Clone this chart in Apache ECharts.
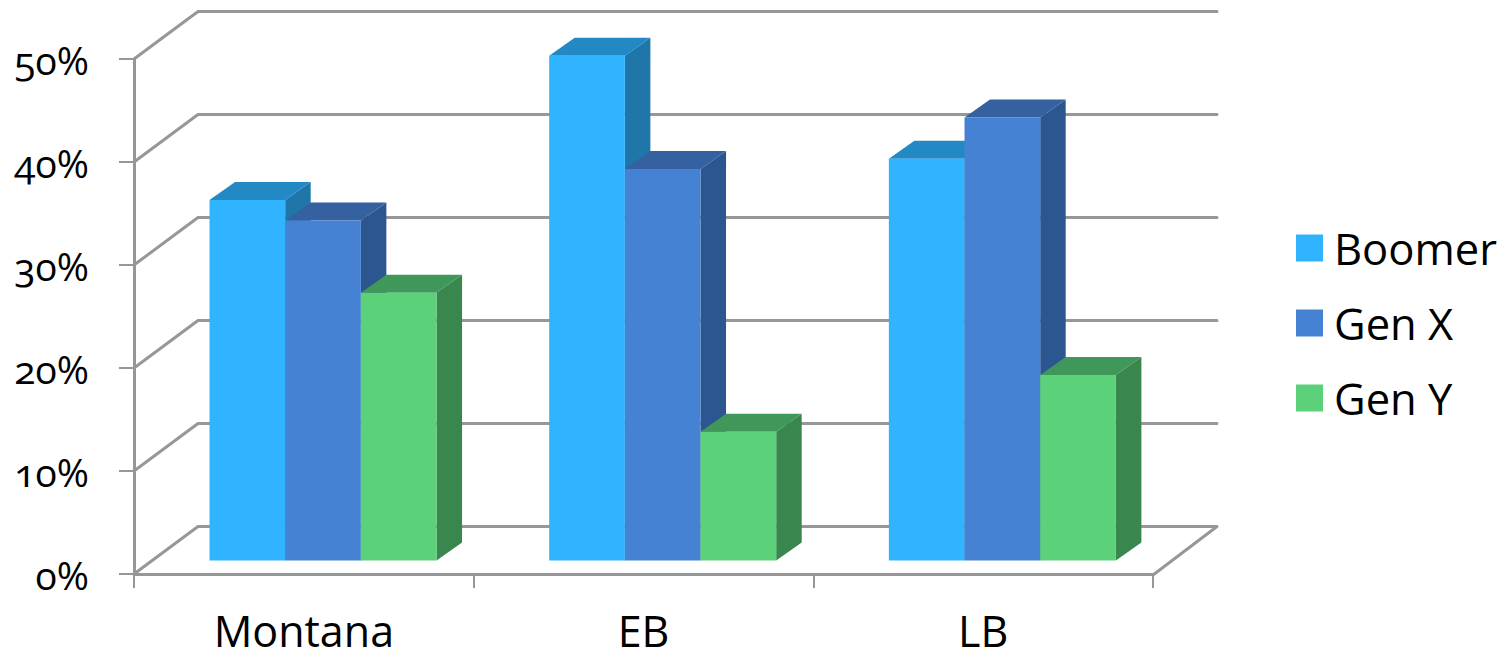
<!DOCTYPE html>
<html>
<head>
<meta charset="utf-8">
<style>
  html, body { margin: 0; padding: 0; background: #fff; }
  #chart { width: 1510px; height: 659px; }
  /* old-style figures for the axis numbers */
  #chart text { font-feature-settings: "onum" 1 !important; }
</style>
<script src="https://cdn.jsdelivr.net/npm/echarts@6/dist/echarts.min.js"></script>
</head>
<body>
<div id="chart"></div>
<script>
const categories = ['Montana', 'EB', 'LB'];
const yTicks = [0, 10, 20, 30, 40, 50];
const boomer = [35, 49, 39];
const genX = [33, 38, 43];
const genY = [26, 12.5, 18];

const FONT = '"Open Sans", Lato, sans-serif';
const GRID_COLOR = '#979797';
const WALL_DX = 64, WALL_DY = -47.5;
const FRONT_DX = 19.2, FRONT_DY = -13.5;
const BAR_DX = 25.5, BAR_DY = -18;
const BAR_SHARE = 0.2228;

const palette = [
  { name: 'Boomer', values: boomer, front: '#30B4FF', top: '#2389C5', side: '#1F76A8' },
  { name: 'Gen X', values: genX, front: '#4682D4', top: '#3561A1', side: '#2B5690' },
  { name: 'Gen Y', values: genY, front: '#5BD27A', top: '#40975A', side: '#39864E' }
];

// Extruded bar: front face plus top and side faces, offset into the chart's depth.
function renderBar(slot) {
  return function (params, api) {
    const base = api.coord([api.value(0), 0]);
    const tip = api.coord([api.value(0), api.value(1)]);
    const band = api.size([1, 0])[0];
    const w = band * BAR_SHARE;
    const x0 = base[0] + FRONT_DX + (slot - 1.5) * w;
    const x1 = x0 + w;
    const yb = base[1] + FRONT_DY;
    const yt = tip[1] + FRONT_DY;
    const c = palette[slot];
    return {
      type: 'group',
      children: [
        { type: 'polygon', shape: { points: [[x1, yt], [x1 + BAR_DX, yt + BAR_DY], [x1 + BAR_DX, yb + BAR_DY], [x1, yb]] }, style: { fill: c.side } },
        { type: 'polygon', shape: { points: [[x0, yt], [x0 + BAR_DX, yt + BAR_DY], [x1 + BAR_DX, yt + BAR_DY], [x1, yt]] }, style: { fill: c.top } },
        { type: 'rect', shape: { x: x0, y: yt, width: w, height: yb - yt }, style: { fill: c.front } }
      ]
    };
  };
}

// Gridline folded along the side wall and back wall; the lowest one also outlines the floor.
function renderWall(params, api) {
  const v = api.value(0);
  const sys = params.coordSys;
  const p = api.coord([0, v]);
  const left = sys.x;
  const right = sys.x + sys.width;
  const y = p[1];
  const points = [[left, y], [left + WALL_DX, y + WALL_DY], [right + WALL_DX, y + WALL_DY]];
  if (v === 0) points.push([right, y + 1]);
  return {
    type: 'polyline',
    shape: { points },
    style: { stroke: GRID_COLOR, lineWidth: 3, fill: null, lineJoin: 'round', lineCap: 'round' }
  };
}

const chart = echarts.init(document.getElementById('chart'), null, { renderer: 'svg' });
chart.setOption({
  animation: false,
  backgroundColor: '#ffffff',
  grid: { left: 134, top: 59, width: 1019, height: 515, containLabel: false },
  legend: {
    orient: 'vertical',
    left: 1296,
    top: 226,
    padding: 0,
    itemWidth: 27,
    itemHeight: 27,
    itemGap: 31,
    icon: 'rect',
    selectedMode: false,
    data: palette.map(p => p.name),
    textStyle: { fontFamily: FONT, fontSize: 43.5, color: '#000', padding: [0, 0, 0, 6] }
  },
  xAxis: {
    type: 'category',
    data: categories,
    offset: 1.5,
    axisLine: { show: true, lineStyle: { color: GRID_COLOR, width: 3 } },
    axisTick: { show: true, length: 14, lineStyle: { color: GRID_COLOR, width: 2 } },
    axisLabel: { fontFamily: FONT, fontSize: 43, color: '#000', margin: 33 },
    splitLine: { show: false }
  },
  yAxis: {
    type: 'value',
    min: 0,
    max: 50,
    interval: 10,
    axisLine: { show: true, lineStyle: { color: GRID_COLOR, width: 3 } },
    axisTick: { show: true, length: 15, lineStyle: { color: GRID_COLOR, width: 2 } },
    axisLabel: { fontFamily: FONT, fontSize: 39, color: '#000', margin: 45, padding: [3, 0, 0, 0], formatter: '{value}%' },
    splitLine: { show: false }
  },
  series: [
    {
      type: 'custom',
      name: 'walls',
      silent: true,
      clip: false,
      z: 1,
      renderItem: renderWall,
      encode: { y: 0 },
      data: yTicks.map(v => [v])
    }
  ].concat(palette.map((p, i) => ({
    type: 'custom',
    name: p.name,
    clip: false,
    z: 3 + i,
    itemStyle: { color: p.front },
    renderItem: renderBar(i),
    encode: { x: 0, y: 1 },
    data: p.values.map((v, k) => [k, v])
  })))
});
</script>
</body>
</html>
